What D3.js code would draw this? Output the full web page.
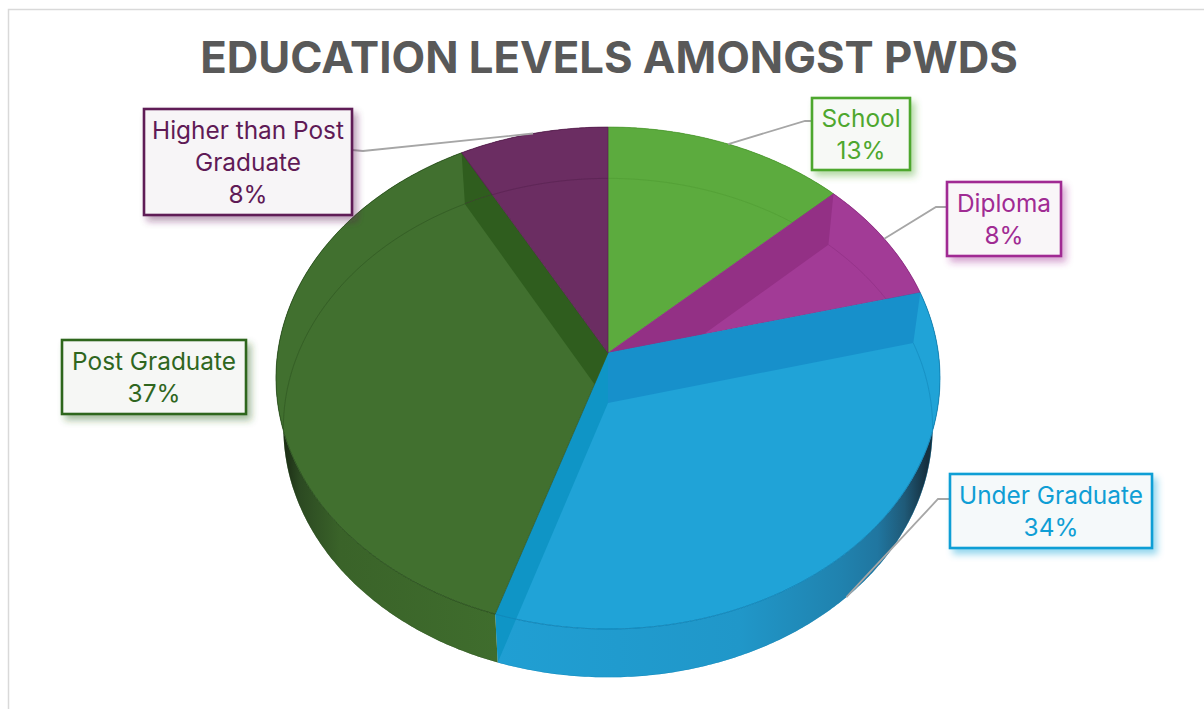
<!DOCTYPE html>
<html>
<head>
<meta charset="utf-8">
<script src="https://cdn.jsdelivr.net/npm/d3@7/dist/d3.min.js"></script>
<style>
  html, body { margin: 0; padding: 0; background: #fff; }
  svg { display: block; }
  text { font-family: Inter, "Noto Sans", sans-serif; }
</style>
</head>
<body>
<script>
// Education shares, clockwise from twelve o'clock
const categories = ["School", "Diploma", "Under Graduate", "Post Graduate", "Higher than Post Graduate"];
const shares = [13, 8, 34, 37, 8];
const titleText = "EDUCATION LEVELS AMONGST PWDS";

// Series colours
const faceColors = ["#5cab3e", "#a23b96", "#20a3d7", "#41702f", "#6b2d62"];
const edgeColors = ["#4f9a33", "#8c2f82", "#1285b8", "#2c5220", "#55204e"];
const labelColors = ["#4ea72e", "#a02b93", "#0f9ed5", "#2f661e", "#5f1a56"];
const innerWallColors = ["#5cab3e", "#933085", "#1790cb", "#2f5d1e", "#6b2d62"];

// Callout boxes, as left/top/right/bottom, with the lines of text wrapped to fit
const calloutBoxes = [
  [812, 98, 910, 170],
  [947, 182, 1061, 256],
  [950, 474, 1152, 548],
  [62, 340, 246, 414],
  [144, 109, 352, 215]
];
const calloutLines = [
  ["School"],
  ["Diploma"],
  ["Under Graduate"],
  ["Post Graduate"],
  ["Higher than Post", "Graduate"]
];
// Leader elbows next to each box; null where the label has no leader
const leaderElbows = [
  [[805, 121], [812, 121]],
  [[936, 207], [947, 207]],
  [[938, 499], [950, 499]],
  null,
  [[363, 151], [352, 150]]
];

const W = 1204, H = 709;
const svg = d3.select("body").append("svg").attr("width", W).attr("height", H);
const defs = svg.append("defs");

// Perspective camera for the tilted disc
const tilt = 0.0996;
const topDisc = { x: 608, y: 353, rx: 330.4, ry: 248.5 };
const baseDisc = { x: 608, y: 403, rx: 323, ry: 247 };

function project(disc, angle) {
  const u = Math.sin(angle), v = -Math.cos(angle);
  const d = 1 - tilt * v;
  return [disc.x + disc.rx * u / d, disc.y + disc.ry * v / d];
}
function rim(disc, a0, a1) {
  const n = Math.max(2, Math.ceil((a1 - a0) / 0.01));
  return d3.range(n + 1).map(i => project(disc, a0 + (a1 - a0) * i / n));
}
const line = d3.line();
const closed = pts => line(pts) + "Z";

const arcs = d3.pie().sort(null).value(d => d)(shares);
const apexTop = [topDisc.x, topDisc.y];
const apexBase = [baseDisc.x, baseDisc.y];

// Frame of the chart area
svg.append("path")
  .attr("d", line([[8.5, H], [8.5, 9.5], [W, 9.5]]))
  .attr("fill", "none").attr("stroke", "#d9d9d9").attr("stroke-width", 1.5);

svg.append("text")
  .attr("x", 609).attr("y", 73)
  .attr("text-anchor", "middle")
  .attr("font-size", 43.7).attr("font-weight", 700)
  .attr("fill", "#595959")
  .text(titleText);

// Soft drop shadow tinted with each callout's own colour
labelColors.forEach((c, i) => {
  const shadow = defs.append("filter").attr("id", "boxShadow" + i)
    .attr("x", "-20%").attr("y", "-20%").attr("width", "145%").attr("height", "155%");
  shadow.append("feGaussianBlur").attr("in", "SourceAlpha").attr("stdDeviation", 3.5).attr("result", "b");
  shadow.append("feOffset").attr("in", "b").attr("dx", 4).attr("dy", 5).attr("result", "o");
  shadow.append("feFlood").attr("flood-color", c).attr("flood-opacity", 0.42).attr("result", "f");
  shadow.append("feComposite").attr("in", "f").attr("in2", "o").attr("operator", "in").attr("result", "s");
  const merge = shadow.append("feMerge");
  merge.append("feMergeNode").attr("in", "s");
  merge.append("feMergeNode").attr("in", "SourceGraphic");
});

// Shaded outer wall: darkens towards the silhouette
const wallStops = {
  2: [[0, "#209fd3"], [0.55, "#2097c9"], [0.78, "#2082ae"], [0.86, "#2076a0"], [0.92, "#1f5a78"], [0.97, "#16303f"], [1, "#16303f"]],
  3: [[0, "#1a2a14"], [0.03, "#1a2a14"], [0.11, "#2c4a22"], [0.29, "#3a6329"], [1, "#3f6d2d"]]
};
Object.entries(wallStops).forEach(([i, stops]) => {
  const g = defs.append("linearGradient").attr("id", "wall" + i);
  stops.forEach(([o, c]) => g.append("stop").attr("offset", o).attr("stop-color", c));
});

const disc = svg.append("g");

arcs.forEach((a, i) => {
  const facePath = closed([apexTop, ...rim(topDisc, a.startAngle, a.endAngle)]);
  const wallPath = closed([...rim(topDisc, a.startAngle, a.endAngle),
                           ...rim(baseDisc, a.startAngle, a.endAngle).reverse()]);
  const clip = defs.append("clipPath").attr("id", "slice" + i);
  clip.append("path").attr("d", facePath);
  clip.append("path").attr("d", wallPath);

  // Outer wall
  disc.append("path").attr("d", wallPath)
    .attr("fill", wallStops[i] ? `url(#wall${i})` : faceColors[i]);
});

arcs.forEach((a, i) => {
  const facePath = closed([apexTop, ...rim(topDisc, a.startAngle, a.endAngle)]);
  const g = disc.append("g");
  g.append("path").attr("d", facePath).attr("fill", faceColors[i])
    .attr("stroke", edgeColors[i]).attr("stroke-width", 0.6);

  const clipped = g.append("g").attr("clip-path", `url(#slice${i})`);

  // Cut face of this slice showing through the translucent top
  const wallAngle = i === 3 ? a.endAngle : a.startAngle;
  if (i === 1 || i === 2 || i === 3) {
    clipped.append("path")
      .attr("d", closed([apexTop, project(topDisc, wallAngle), project(baseDisc, wallAngle), apexBase]))
      .attr("fill", innerWallColors[i]);
  }
  if (i === 2) {
    clipped.append("path")
      .attr("d", closed([apexTop, project(topDisc, a.endAngle), project(baseDisc, a.endAngle), apexBase]))
      .attr("fill", "#0f95c6");
  }

  // Far edge of the base seen through the top
  clipped.append("path")
    .attr("d", line(rim(baseDisc, a.startAngle, a.endAngle)))
    .attr("fill", "none").attr("stroke", edgeColors[i]).attr("stroke-width", 0.8)
    .attr("opacity", 0.7);
  // Near edge of the top against the wall
  clipped.append("path")
    .attr("d", line(rim(topDisc, a.startAngle, a.endAngle)))
    .attr("fill", "none").attr("stroke", edgeColors[i]).attr("stroke-width", 0.8);
});

// Leader lines start at the middle of each slice's rim
arcs.forEach((a, i) => {
  if (!leaderElbows[i]) return;
  const mid = (a.startAngle + a.endAngle) / 2;
  const start = i === 2 ? project(baseDisc, mid) : project(topDisc, mid);
  svg.append("path").attr("d", line([start, ...leaderElbows[i]]))
    .attr("fill", "none").attr("stroke", "#a6a6a6").attr("stroke-width", 1.8);
});

// Callouts
categories.forEach((name, i) => {
  const [x0, y0, x1, y1] = calloutBoxes[i];
  const g = svg.append("g");
  g.append("rect")
    .attr("x", x0).attr("y", y0).attr("width", x1 - x0).attr("height", y1 - y0)
    .attr("fill", d3.interpolateRgb("#fbfbfb", labelColors[i])(0.025))
    .attr("stroke", labelColors[i]).attr("stroke-width", 2.6)
    .attr("filter", `url(#boxShadow${i})`);
  const rows = [...calloutLines[i], d3.format(".0%")(shares[i] / 100)];
  const lh = 32;
  const first = (y0 + y1) / 2 - (rows.length - 1) * lh / 2 + 9.4;
  rows.forEach((r, k) => {
    g.append("text")
      .attr("x", (x0 + x1) / 2).attr("y", first + k * lh)
      .attr("text-anchor", "middle")
      .attr("font-size", 24.4)
      .attr("fill", labelColors[i])
      .text(r);
  });
});
</script>
</body>
</html>
